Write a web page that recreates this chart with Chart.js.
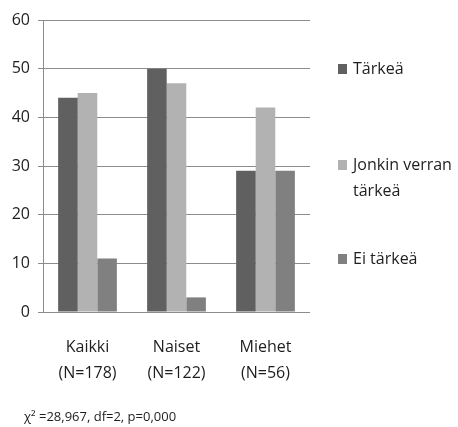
<!DOCTYPE html>
<html>
<head>
<meta charset="utf-8">
<script src="https://cdn.jsdelivr.net/npm/chart.js@4/dist/chart.umd.min.js"></script>
<style>
  body { margin: 0; background: #fff; }
  #wrap { width: 458px; height: 427px; position: relative; }
</style>
</head>
<body>
<div id="wrap"><canvas id="tarkeys"></canvas></div>
<script>
// data
var ryhmat = [["Kaikki", "(N=178)"], ["Naiset", "(N=122)"], ["Miehet", "(N=56)"]];
var tarkea = [44, 50, 29];
var jonkinVerran = [45, 47, 42];
var eiTarkea = [11, 3, 29];
var sarjat = [["Tärkeä"], ["Jonkin verran", "tärkeä"], ["Ei tärkeä"]];
var varit = ["#606060", "#b2b2b2", "#808080"];
var testi = "χ² =28,967, df=2, p=0,000";

var fontti = "'Open Sans', 'Noto Sans', sans-serif";

// legend drawn on the right like the excel original
var omaSelite = {
    id: 'omaSelite',
    afterDraw: function(chart) {
        var c = chart.ctx, a = chart.chartArea;
        var rivit = [69, 165, 259];
        c.save();
        c.font = "16px " + fontti;
        c.textBaseline = 'middle';
        sarjat.forEach(function(nimi, i) {
            var y = rivit[i];
            c.fillStyle = varit[i];
            c.fillRect(a.right + 28, y - 5, 9, 10);
            c.fillStyle = '#1e1e1e';
            nimi.forEach(function(t, j) {
                c.fillText(t, a.right + 43, y + j * 26);
            });
        });
        c.font = "13px " + fontti;
        c.fillText(testi, 24, 417);
        c.restore();
    }
};

var ctx = document.getElementById("tarkeys").getContext("2d");
new Chart(ctx, {
    type: 'bar',
    data: {
        labels: ryhmat,
        datasets: [
            { label: sarjat[0].join(' '), data: tarkea, backgroundColor: varit[0] },
            { label: sarjat[1].join(' '), data: jonkinVerran, backgroundColor: varit[1] },
            { label: sarjat[2].join(' '), data: eiTarkea, backgroundColor: varit[2] }
        ]
    },
    options: {
        responsive: true,
        maintainAspectRatio: false,
        animation: false,
        layout: { padding: { top: 20, right: 148, left: 0, bottom: 0 } },
        datasets: { bar: { barPercentage: 1, categoryPercentage: 0.66 } },
        plugins: {
            legend: { display: false },
            tooltip: { enabled: false }
        },
        scales: {
            x: {
                grid: { display: false },
                border: { display: false },
                ticks: {
                    color: '#1e1e1e',
                    padding: 14,
                    font: { family: fontti, size: 16, lineHeight: 1.65 }
                },
                afterFit: function(s) { s.height = 115; }
            },
            y: {
                min: 0,
                max: 60,
                ticks: {
                    stepSize: 10,
                    color: '#1e1e1e',
                    padding: 8,
                    font: { family: fontti, size: 16 }
                },
                grid: { color: '#8c8c8c', tickLength: 5 },
                border: { display: true, color: '#8c8c8c' },
                afterFit: function(s) { s.width = 43; }
            }
        }
    },
    plugins: [omaSelite]
});
</script>
</body>
</html>
